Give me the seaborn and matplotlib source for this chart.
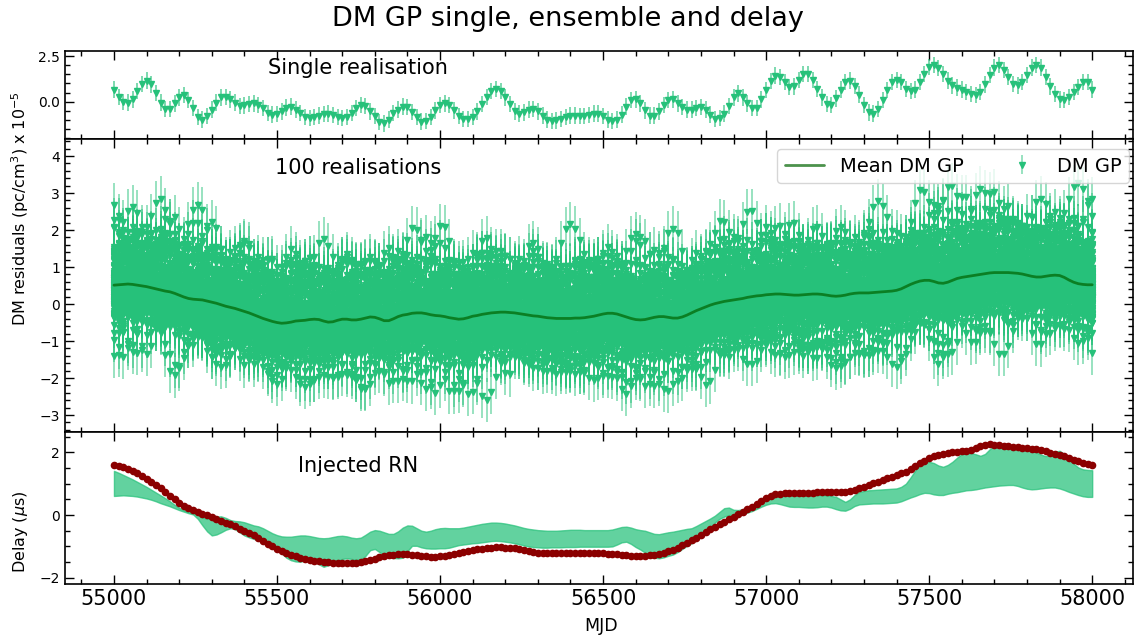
import numpy as np
import pandas as pd
import matplotlib
matplotlib.use("Agg")
import matplotlib.pyplot as plt
from matplotlib.colors import to_rgba
from matplotlib.ticker import MultipleLocator
import seaborn as sns

# ---------------------------------------------------------------- data
# one GP draw of the DM variations (units of 1e-5 pc/cm^3)
dm_single = [
    0.66, 0.27, -0.02, -0.05, 0.13, 0.59, 0.98, 1.16, 0.95, 0.48,
    -0.05, -0.39, -0.39, -0.09, 0.23, 0.36, 0.09, -0.35, -0.83, -0.98,
    -0.80, -0.44, -0.05, 0.23, 0.27, 0.13, -0.05, -0.23, -0.21, -0.12,
    -0.09, -0.18, -0.35, -0.62, -0.71, -0.69, -0.53, -0.32, -0.27, -0.44,
    -0.62, -0.83, -0.89, -0.85, -0.76, -0.69, -0.66, -0.73, -0.85, -0.91,
    -0.85, -0.62, -0.35, -0.18, -0.23, -0.53, -0.80, -1.12, -1.19, -0.98,
    -0.62, -0.44, -0.27, -0.30, -0.57, -0.83, -1.09, -1.07, -0.83, -0.48,
    -0.18, -0.09, -0.18, -0.48, -0.80, -0.94, -0.94, -0.83, -0.53, -0.12,
    0.27, 0.59, 0.70, 0.59, 0.23, -0.12, -0.53, -0.66, -0.59, -0.44,
    -0.41, -0.53, -0.76, -0.98, -1.07, -1.03, -0.94, -0.83, -0.76, -0.76,
    -0.80, -0.80, -0.73, -0.66, -0.66, -0.80, -0.98, -1.07, -0.98, -0.71,
    -0.27, 0.09, 0.13, -0.09, -0.48, -0.76, -0.76, -0.53, -0.18, 0.09,
    0.13, -0.09, -0.30, -0.44, -0.44, -0.35, -0.30, -0.44, -0.71, -0.94,
    -0.91, -0.66, -0.23, 0.23, 0.45, 0.23, -0.09, -0.35, -0.35, 0.13,
    0.63, 1.12, 1.43, 1.37, 1.07, 0.80, 0.84, 1.19, 1.52, 1.52,
    1.19, 0.68, 0.23, -0.12, -0.18, 0.18, 0.66, 1.07, 1.16, 0.86,
    0.39, -0.18, -0.59, -0.66, -0.41, 0.09, 0.63, 1.07, 1.19, 1.07,
    0.71, 0.59, 0.66, 1.07, 1.52, 1.91, 2.02, 1.84, 1.52, 1.16,
    0.89, 0.77, 0.66, 0.54, 0.41, 0.36, 0.54, 0.95, 1.48, 1.87,
    2.02, 1.73, 1.37, 0.98, 0.89, 1.07, 1.48, 1.87, 2.00, 1.87,
    1.37, 0.84, 0.41, 0.13, 0.09, 0.27, 0.54, 0.80, 1.07, 1.07,
    0.66,
]
single_err = 0.45

# mean of the 100 GP draws
dm_mean = [
    0.51, 0.52, 0.53, 0.54, 0.53, 0.51, 0.49, 0.47, 0.44, 0.41,
    0.38, 0.35, 0.33, 0.29, 0.24, 0.19, 0.15, 0.13, 0.12, 0.11,
    0.08, 0.05, 0.02, -0.02, -0.06, -0.09, -0.12, -0.16, -0.20, -0.24,
    -0.29, -0.34, -0.39, -0.43, -0.47, -0.50, -0.52, -0.51, -0.49, -0.46,
    -0.45, -0.44, -0.42, -0.41, -0.42, -0.46, -0.49, -0.48, -0.44, -0.41,
    -0.41, -0.43, -0.43, -0.41, -0.38, -0.35, -0.36, -0.40, -0.45, -0.45,
    -0.40, -0.34, -0.30, -0.28, -0.25, -0.24, -0.24, -0.26, -0.29, -0.31,
    -0.32, -0.34, -0.37, -0.39, -0.41, -0.40, -0.37, -0.33, -0.31, -0.28,
    -0.26, -0.24, -0.23, -0.22, -0.22, -0.23, -0.24, -0.26, -0.28, -0.30,
    -0.32, -0.33, -0.35, -0.37, -0.38, -0.39, -0.39, -0.39, -0.39, -0.38,
    -0.38, -0.37, -0.35, -0.33, -0.30, -0.27, -0.25, -0.25, -0.27, -0.31,
    -0.35, -0.39, -0.42, -0.43, -0.42, -0.39, -0.36, -0.34, -0.34, -0.36,
    -0.38, -0.38, -0.35, -0.30, -0.24, -0.18, -0.13, -0.08, -0.03, 0.01,
    0.04, 0.07, 0.09, 0.11, 0.13, 0.15, 0.18, 0.20, 0.22, 0.23,
    0.25, 0.26, 0.27, 0.27, 0.26, 0.25, 0.24, 0.24, 0.25, 0.26,
    0.27, 0.27, 0.26, 0.24, 0.22, 0.21, 0.22, 0.24, 0.27, 0.29,
    0.30, 0.30, 0.30, 0.31, 0.32, 0.33, 0.34, 0.35, 0.37, 0.41,
    0.47, 0.53, 0.58, 0.62, 0.64, 0.64, 0.61, 0.57, 0.56, 0.59,
    0.64, 0.69, 0.72, 0.74, 0.76, 0.78, 0.80, 0.82, 0.84, 0.85,
    0.85, 0.85, 0.85, 0.84, 0.83, 0.81, 0.78, 0.75, 0.73, 0.73,
    0.75, 0.77, 0.78, 0.77, 0.72, 0.65, 0.59, 0.55, 0.53, 0.52,
    0.52,
]
ens_err = 0.6

# per-draw level offset and lag (in samples) of the ensemble members
ens_offset = [
    0.05, -0.18, 0.31, -0.09, 0.14, -0.37, 0.02, 0.22, -0.15, 1.05,
    -0.26, 0.10, -0.03, 0.37, -1.10, 0.17, -0.12, 0.27, -0.22, 0.06,
    -0.01, 0.19, -0.34, 1.30, -0.07, 0.12, -0.20, 0.29, -0.29, 0.04,
    0.15, -0.95, 0.25, -0.05, 0.08, -0.14, 0.39, -0.23, 0.02, 0.21,
    -0.11, 0.34, -1.25, 0.10, -0.02, 0.18, -0.18, 0.90, -0.13, 0.06,
    -0.27, 0.14, -0.06, 0.30, -0.85, 0.09, -0.10, 0.24, -0.21, 0.03,
    -0.35, 0.18, -0.02, 1.15, -0.14, 0.07, -0.25, 0.33, -0.08, 0.13,
    -0.31, 0.49, -0.17, 0.05, -0.04, 0.26, -0.19, 0.16, -1.00, 0.11,
    -0.10, 0.28, -0.23, 0.01, 0.35, -0.14, 0.06, -0.26, 0.20, -0.06,
    0.80, -0.39, 0.10, -0.10, 0.22, -0.30, 0.14, -0.01, 0.30, -0.20,
]
ens_shift = [
    0, 37, 112, 58, 171, 9, 143, 84, 26, 199,
    65, 130, 17, 96, 158, 44, 187, 73, 121, 5,
    149, 52, 180, 31, 107, 166, 78, 13, 136, 92,
    203, 48, 117, 22, 162, 69, 141, 3, 88, 175,
    40, 125, 61, 194, 15, 103, 152, 34, 183, 76,
    128, 8, 99, 168, 55, 139, 20, 114, 191, 46,
    82, 155, 28, 133, 71, 206, 11, 94, 177, 39,
    146, 63, 118, 24, 186, 85, 6, 160, 50, 109,
    197, 32, 124, 67, 153, 18, 101, 173, 42, 137,
    80, 2, 164, 57, 115, 189, 29, 144, 74, 208,
]

# injected red-noise delay (microseconds)
rn_injected = [
    1.59, 1.56, 1.52, 1.46, 1.40, 1.33, 1.25, 1.16, 1.06, 0.96,
    0.85, 0.73, 0.60, 0.50, 0.39, 0.29, 0.22, 0.15, 0.09, 0.04,
    -0.01, -0.07, -0.13, -0.19, -0.24, -0.30, -0.36, -0.43, -0.50, -0.57,
    -0.64, -0.73, -0.82, -0.91, -0.99, -1.07, -1.14, -1.21, -1.27, -1.32,
    -1.37, -1.41, -1.44, -1.46, -1.48, -1.50, -1.51, -1.52, -1.53, -1.54,
    -1.54, -1.54, -1.52, -1.49, -1.46, -1.42, -1.39, -1.35, -1.31, -1.28,
    -1.26, -1.25, -1.24, -1.24, -1.26, -1.29, -1.31, -1.32, -1.33, -1.33,
    -1.32, -1.30, -1.27, -1.24, -1.21, -1.18, -1.15, -1.12, -1.09, -1.07,
    -1.05, -1.04, -1.03, -1.03, -1.04, -1.05, -1.06, -1.08, -1.11, -1.14,
    -1.18, -1.20, -1.21, -1.21, -1.20, -1.20, -1.20, -1.20, -1.20, -1.20,
    -1.20, -1.20, -1.20, -1.20, -1.21, -1.22, -1.23, -1.24, -1.25, -1.27,
    -1.29, -1.30, -1.31, -1.31, -1.30, -1.28, -1.26, -1.24, -1.20, -1.16,
    -1.11, -1.04, -0.97, -0.89, -0.81, -0.72, -0.63, -0.54, -0.45, -0.37,
    -0.29, -0.21, -0.13, -0.06, 0.02, 0.10, 0.18, 0.26, 0.35, 0.45,
    0.55, 0.62, 0.66, 0.68, 0.69, 0.70, 0.70, 0.70, 0.71, 0.71,
    0.72, 0.73, 0.74, 0.74, 0.74, 0.74, 0.74, 0.75, 0.77, 0.81,
    0.86, 0.91, 0.96, 1.01, 1.06, 1.12, 1.18, 1.23, 1.28, 1.33,
    1.38, 1.47, 1.57, 1.66, 1.73, 1.81, 1.87, 1.91, 1.94, 1.97,
    2.00, 2.02, 2.04, 2.06, 2.09, 2.14, 2.19, 2.23, 2.26, 2.25,
    2.23, 2.21, 2.19, 2.17, 2.16, 2.15, 2.13, 2.12, 2.10, 2.07,
    2.03, 1.99, 1.96, 1.92, 1.88, 1.83, 1.77, 1.72, 1.67, 1.63,
    1.59,
]

# spread of the delay predicted from the DM GP draws
delay_upper = [
    1.41, 1.35, 1.28, 1.21, 1.14, 1.06, 0.98, 0.90, 0.81, 0.72,
    0.63, 0.54, 0.44, 0.33, 0.23, 0.16, 0.10, 0.07, 0.02, -0.08,
    -0.12, -0.10, -0.05, -0.04, -0.09, -0.16, -0.19, -0.20, -0.23, -0.28,
    -0.33, -0.36, -0.42, -0.50, -0.58, -0.64, -0.68, -0.69, -0.69, -0.67,
    -0.65, -0.65, -0.67, -0.70, -0.73, -0.74, -0.73, -0.70, -0.67, -0.66,
    -0.68, -0.72, -0.74, -0.72, -0.63, -0.53, -0.48, -0.50, -0.55, -0.60,
    -0.60, -0.52, -0.40, -0.33, -0.34, -0.42, -0.50, -0.53, -0.50, -0.45,
    -0.42, -0.41, -0.42, -0.42, -0.42, -0.40, -0.37, -0.34, -0.31, -0.28,
    -0.26, -0.24, -0.24, -0.25, -0.27, -0.30, -0.33, -0.37, -0.41, -0.44,
    -0.46, -0.48, -0.49, -0.50, -0.50, -0.50, -0.49, -0.48, -0.47, -0.47,
    -0.47, -0.48, -0.48, -0.48, -0.48, -0.48, -0.48, -0.46, -0.42, -0.38,
    -0.37, -0.40, -0.45, -0.48, -0.50, -0.55, -0.60, -0.61, -0.58, -0.55,
    -0.53, -0.50, -0.47, -0.44, -0.42, -0.35, -0.27, -0.19, -0.11, -0.02,
    0.10, 0.22, 0.24, 0.17, 0.16, 0.19, 0.23, 0.27, 0.35, 0.44,
    0.53, 0.59, 0.63, 0.64, 0.64, 0.64, 0.64, 0.64, 0.64, 0.64,
    0.64, 0.64, 0.64, 0.63, 0.61, 0.58, 0.50, 0.42, 0.50, 0.64,
    0.74, 0.77, 0.79, 0.80, 0.81, 0.82, 0.83, 0.84, 0.85, 0.90,
    1.00, 1.20, 1.42, 1.60, 1.67, 1.70, 1.66, 1.58, 1.54, 1.60,
    1.70, 1.83, 1.95, 1.98, 1.98, 1.94, 1.89, 1.95, 2.10, 2.21,
    2.23, 2.24, 2.24, 2.23, 2.20, 2.16, 2.11, 2.07, 2.00, 1.93,
    1.88, 1.92, 2.02, 2.05, 1.95, 1.78, 1.64, 1.52, 1.46, 1.44,
    1.43,
]
delay_lower = [
    0.61, 0.62, 0.63, 0.62, 0.61, 0.59, 0.56, 0.53, 0.49, 0.44,
    0.38, 0.33, 0.28, 0.22, 0.16, 0.11, 0.06, 0.02, -0.12, -0.33,
    -0.52, -0.65, -0.62, -0.55, -0.47, -0.42, -0.45, -0.55, -0.65, -0.71,
    -0.76, -0.80, -0.83, -0.86, -0.91, -1.05, -1.22, -1.36, -1.44, -1.48,
    -1.49, -1.44, -1.39, -1.45, -1.57, -1.65, -1.60, -1.52, -1.46, -1.40,
    -1.38, -1.40, -1.43, -1.42, -1.30, -1.12, -1.08, -1.18, -1.29, -1.35,
    -1.37, -1.38, -1.36, -1.15, -0.98, -0.98, -1.03, -1.06, -1.07, -1.07,
    -1.06, -1.06, -1.04, -1.00, -0.96, -0.94, -0.92, -0.90, -0.89, -0.87,
    -0.85, -0.83, -0.82, -0.83, -0.85, -0.87, -0.90, -0.93, -0.97, -1.00,
    -1.02, -1.03, -1.04, -1.04, -1.03, -1.03, -1.03, -1.02, -1.02, -1.02,
    -1.01, -1.01, -1.01, -1.01, -1.01, -1.01, -1.01, -1.00, -0.94, -0.87,
    -0.85, -0.92, -1.02, -1.10, -1.20, -1.30, -1.36, -1.38, -1.35, -1.30,
    -1.26, -1.18, -1.08, -0.98, -0.90, -0.78, -0.65, -0.50, -0.38, -0.24,
    -0.12, -0.05, 0.00, 0.00, 0.01, 0.04, 0.08, 0.13, 0.20, 0.27,
    0.33, 0.37, 0.38, 0.35, 0.31, 0.27, 0.26, 0.26, 0.25, 0.24,
    0.24, 0.25, 0.27, 0.27, 0.24, 0.19, 0.15, 0.14, 0.20, 0.29,
    0.34, 0.35, 0.36, 0.37, 0.37, 0.37, 0.38, 0.39, 0.40, 0.44,
    0.50, 0.56, 0.61, 0.67, 0.71, 0.70, 0.66, 0.64, 0.64, 0.68,
    0.71, 0.73, 0.76, 0.79, 0.80, 0.82, 0.85, 0.88, 0.90, 0.92,
    0.94, 0.95, 0.96, 0.96, 0.93, 0.88, 0.84, 0.82, 0.83, 0.85,
    0.87, 0.88, 0.88, 0.85, 0.80, 0.74, 0.69, 0.64, 0.60, 0.58,
    0.58,
]

n_toa = len(dm_single)
for arr in (dm_mean, rn_injected, delay_upper, delay_lower):
    assert len(arr) == n_toa
assert len(ens_offset) == len(ens_shift) == 100

# observing epochs (MJD), evenly sampled
mjd = np.linspace(55000, 58000, n_toa)

# ---------------------------------------------------------------- style
sns.set_theme(style="ticks")
plt.rcParams.update({
    "font.family": ["DejaVu Sans"],
    "text.color": "black",
    "axes.labelcolor": "black",
    "axes.edgecolor": "black",
    "axes.linewidth": 1.2,
    "xtick.color": "black",
    "ytick.color": "black",
    "axes.facecolor": "white",
    "figure.facecolor": "white",
})

GP_GREEN = "#26c17a"
GP_BAR = to_rgba(GP_GREEN, 0.6)
MEAN_GREEN = "darkgreen"
RN_RED = "darkred"

fig = plt.figure(figsize=(11.35, 6.41), dpi=100)
gs = fig.add_gridspec(3, 1, height_ratios=[88, 293, 152], hspace=0,
                      left=0.0573, right=0.9982, top=0.9204, bottom=0.0889)
ax1 = fig.add_subplot(gs[0])
ax2 = fig.add_subplot(gs[1], sharex=ax1)
ax3 = fig.add_subplot(gs[2], sharex=ax1)

single_arr = np.asarray(dm_single)
mean_arr = np.asarray(dm_mean)

# ---- top: one realisation
ax1.errorbar(mjd, single_arr, yerr=single_err, fmt="v", color=GP_GREEN,
             ms=4.3, ecolor=GP_BAR, elinewidth=1.4, zorder=3)
ax1.text(0.274, 0.807, "Single realisation", transform=ax1.transAxes,
         ha="center", va="center", fontsize=15)

# ---- middle: the ensemble and its mean
deviation = single_arr - mean_arr
eb = None
for off, lag in zip(ens_offset, ens_shift):
    draw = mean_arr + off + np.roll(deviation, lag)
    eb = ax2.errorbar(mjd, draw, yerr=ens_err, fmt="v", color=GP_GREEN,
                      ms=4.3, ecolor=GP_BAR, elinewidth=1.1, zorder=2)

mean_df = pd.DataFrame({"MJD": mjd, "DM": mean_arr})
sns.lineplot(data=mean_df, x="MJD", y="DM", ax=ax2, color=MEAN_GREEN,
             alpha=0.7, lw=2.0, zorder=5)
mean_line = ax2.lines[-1]
ax2.text(0.274, 0.90, "100 realisations", transform=ax2.transAxes,
         ha="center", va="center", fontsize=15)
ax2.legend([mean_line, eb], ["Mean DM GP", "DM GP"], loc="upper right",
           bbox_to_anchor=(1.0055, 1.0), ncol=2, fontsize=14,
           frameon=True, framealpha=0.8, edgecolor="0.8")

# ---- bottom: delay band and injected red noise
ax3.fill_between(mjd, delay_lower, delay_upper, color=GP_GREEN, alpha=0.72,
                 lw=1.0, zorder=2)
rn_df = pd.DataFrame({"MJD": mjd, "Delay": rn_injected})
sns.lineplot(data=rn_df, x="MJD", y="Delay", ax=ax3, color=RN_RED,
             marker="o", markersize=5.5, markeredgewidth=0, lw=1.5, zorder=4)
ax3.text(0.274, 0.776, "Injected RN", transform=ax3.transAxes,
         ha="center", va="center", fontsize=15)

# ---------------------------------------------------------------- axes
ax1.set_xlim(54850, 58125)
ax1.set_ylim(-2.05, 2.78)
ax2.set_ylim(-3.46, 4.46)
ax3.set_ylim(-2.2, 2.65)

ax1.yaxis.set_major_locator(MultipleLocator(2.5))
ax1.yaxis.set_minor_locator(MultipleLocator(0.5))
ax2.yaxis.set_major_locator(MultipleLocator(1))
ax2.yaxis.set_minor_locator(MultipleLocator(0.2))
ax3.yaxis.set_major_locator(MultipleLocator(2))
ax3.yaxis.set_minor_locator(MultipleLocator(0.5))
ax3.xaxis.set_major_locator(MultipleLocator(500))
ax3.xaxis.set_minor_locator(MultipleLocator(100))

for ax in (ax1, ax2, ax3):
    ax.tick_params(which="both", direction="in", top=True, right=True,
                   width=1.0, color="black", labelcolor="black")
    ax.tick_params(which="major", length=6.5)
    ax.tick_params(which="minor", length=3.5)
    ax.tick_params(axis="y", labelsize=10)
    ax.set_xlabel("")
    ax.set_ylabel("")
    for s in ax.spines.values():
        s.set_visible(True)
        s.set_color("black")
ax1.tick_params(axis="x", labelbottom=False)
ax2.tick_params(axis="x", labelbottom=False)
ax3.tick_params(axis="x", labelsize=15)
ax1.yaxis.set_major_formatter(plt.FormatStrFormatter("%.1f"))

fig.suptitle("DM GP single, ensemble and delay", fontsize=19.5, y=0.99,
             color="black")
fig.text(0.530, 0.024, "MJD", ha="center", va="center", fontsize=12.5)
fig.text(0.018, 0.675, r"DM residuals (pc/cm$^3$) x 10$^{-5}$",
         rotation=90, ha="center", va="center", fontsize=11.5)
fig.text(0.018, 0.17, r"Delay ($\mu$s)", rotation=90,
         ha="center", va="center", fontsize=11.5)

fig.savefig("out.png", dpi=100)
